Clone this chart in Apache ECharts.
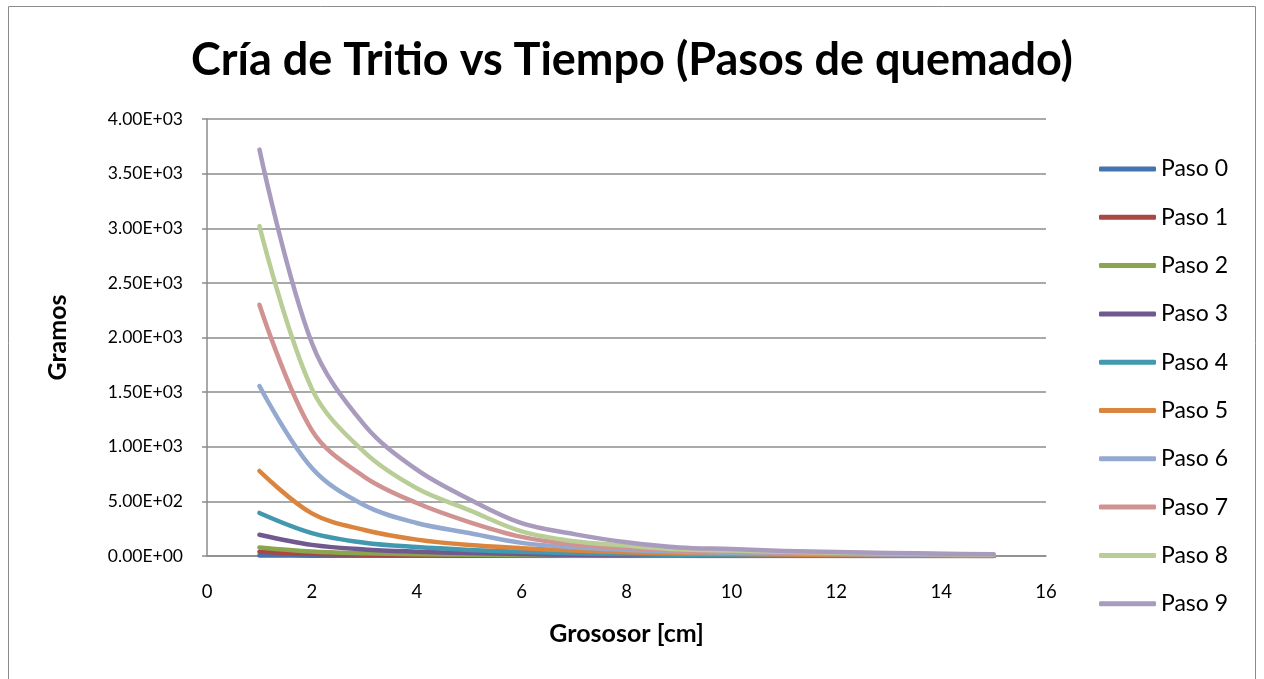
<!DOCTYPE html>
<html>
<head>
<meta charset="utf-8">
<script src="https://cdn.jsdelivr.net/npm/echarts@6/dist/echarts.min.js"></script>
<style>
  html, body { margin: 0; padding: 0; background: #ffffff; }
  #chart { width: 1264px; height: 679px; }
</style>
</head>
<body>
<div id="chart"></div>
<script>
// Grosor de la capa (cm)
const grosor = [1, 2, 3, 4, 5, 6, 7, 8, 9, 10, 11, 12, 13, 14, 15];

// Tritio producido (g) por paso de quemado
const paso0 = [5, 3, 2, 1.3, 0.9, 0.6, 0.4, 0.3, 0.2, 0.2, 0.1, 0.1, 0.1, 0.1, 0.1];
const paso1 = [38, 20, 12, 8, 5, 3.5, 2.4, 1.7, 1.2, 1, 0.8, 0.6, 0.5, 0.4, 0.3];
const paso2 = [78, 41, 25, 16, 11, 7, 5, 3.5, 2.5, 2, 1.5, 1.2, 1, 0.8, 0.6];
const paso3 = [195, 102, 60, 40, 27, 18, 12, 8, 6, 5, 4, 3, 2, 2, 1];
const paso4 = [394, 210, 122, 82, 56, 38, 26, 18, 12, 9, 7, 5, 4, 3, 3];
const paso5 = [778, 390, 238, 150, 100, 72, 50, 34, 23, 18, 14, 11, 8, 6, 5];
const paso6 = [1556, 805, 465, 302, 210, 120, 80, 55, 38, 30, 23, 18, 14, 11, 9];
const paso7 = [2300, 1150, 725, 485, 311, 175, 105, 75, 50, 40, 31, 25, 20, 15, 12];
const paso8 = [3020, 1530, 950, 620, 420, 225, 135, 95, 62, 50, 38, 30, 24, 18, 14];
const paso9 = [3720, 1950, 1200, 790, 520, 300, 200, 125, 78, 64, 46, 36, 28, 21, 15];

const seriesNames = ['Paso 0', 'Paso 1', 'Paso 2', 'Paso 3', 'Paso 4',
                     'Paso 5', 'Paso 6', 'Paso 7', 'Paso 8', 'Paso 9'];
const seriesValues = [paso0, paso1, paso2, paso3, paso4, paso5, paso6, paso7, paso8, paso9];
const colors = ['#4672B0', '#AA4643', '#89A54E', '#71588F', '#4198AF',
                '#DB843D', '#93A9CF', '#D19392', '#B9CD96', '#A99BBD'];

const FONT = 'Lato, "Open Sans", sans-serif';

// 4000 -> "4.00E+03"
function sci(v) {
  if (v === 0) return '0.00E+00';
  const exp = Math.floor(Math.log10(Math.abs(v)));
  const mant = v / Math.pow(10, exp);
  const sign = exp < 0 ? '-' : '+';
  const e = String(Math.abs(exp)).padStart(2, '0');
  return mant.toFixed(2) + 'E' + sign + e;
}

const chart = echarts.init(document.getElementById('chart'), null, { renderer: 'canvas' });

chart.setOption({
  backgroundColor: '#ffffff',
  animation: false,
  color: colors,
  title: {
    text: 'Cría de Tritio vs Tiempo (Pasos de quemado)',
    left: 'center',
    top: 33,
    textStyle: { fontFamily: FONT, fontWeight: 'bold', fontSize: 45, color: '#000000' }
  },
  graphic: [{
    type: 'rect',
    shape: { x: 8.5, y: 6.5, width: 1247, height: 690 },
    style: { fill: 'none', stroke: '#8c8c8c', lineWidth: 1 },
    silent: true
  }],
  legend: {
    orient: 'vertical',
    left: 1094,
    top: 151,
    itemWidth: 57,
    itemHeight: 5,
    itemGap: 22.3,
    itemTextGap: 5,
    icon: 'roundRect',
    textStyle: { fontFamily: FONT, fontSize: 23, color: '#000000', lineHeight: 26 },
    data: seriesNames
  },
  grid: { left: 207, right: 218, top: 119, bottom: 123, containLabel: false },
  xAxis: {
    type: 'value',
    min: 0, max: 16, interval: 2,
    name: 'Grososor [cm]',
    nameLocation: 'middle',
    nameGap: 65,
    nameTextStyle: { fontFamily: FONT, fontWeight: 'bold', fontSize: 25, color: '#000000' },
    axisLine: { show: true, onZero: false, lineStyle: { color: '#8c8c8c', width: 1.5 } },
    axisTick: { show: false },
    splitLine: { show: false },
    axisLabel: { fontFamily: FONT, fontSize: 18.5, color: '#000000', margin: 27 }
  },
  yAxis: {
    type: 'value',
    min: 0, max: 4000, interval: 500,
    name: 'Gramos',
    nameLocation: 'middle',
    nameRotate: 90,
    nameGap: 137,
    nameTextStyle: { fontFamily: FONT, fontWeight: 'bold', fontSize: 25, color: '#000000' },
    axisLine: { show: true, lineStyle: { color: '#8c8c8c', width: 1.5 } },
    axisTick: { show: true, length: 5, lineStyle: { color: '#8c8c8c', width: 1.5 } },
    splitLine: { show: true, lineStyle: { color: '#8c8c8c', width: 1.5 } },
    axisLabel: { fontFamily: FONT, fontSize: 17.5, color: '#000000', margin: 24, formatter: sci }
  },
  series: seriesNames.map((name, i) => ({
    name: name,
    type: 'line',
    data: grosor.map((x, j) => [x, seriesValues[i][j]]),
    smooth: 0.35,
    showSymbol: false,
    symbol: 'none',
    lineStyle: { width: 4.5, color: colors[i], cap: 'round', join: 'round' },
    itemStyle: { color: colors[i] },
    z: 2 + i
  }))
});
</script>
</body>
</html>
